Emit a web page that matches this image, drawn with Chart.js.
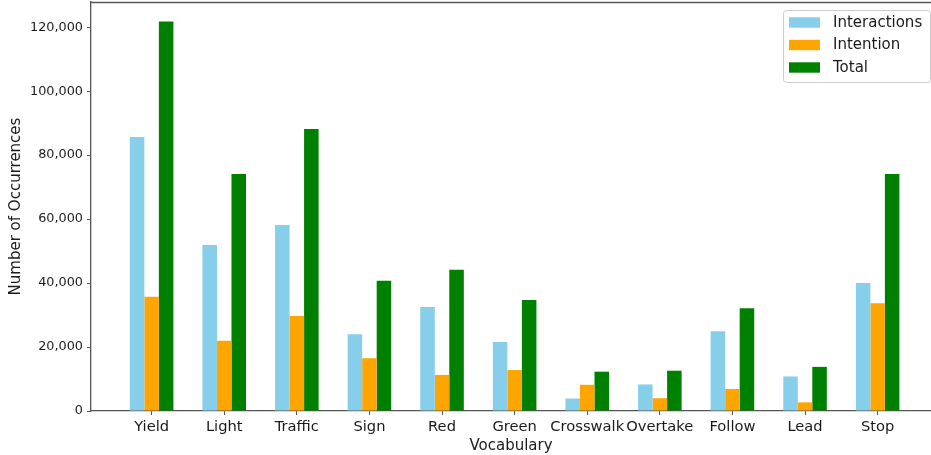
<!DOCTYPE html>
<html>
<head>
<meta charset="utf-8">
<script src="https://cdn.jsdelivr.net/npm/chart.js@4"></script>
<style>
html,body{margin:0;padding:0;background:#fff;}
canvas{display:block;}
</style>
</head>
<body>
<canvas id="c" width="931" height="455"></canvas>
<script>
const categories = ["Yield","Light","Traffic","Sign","Red","Green","Crosswalk","Overtake","Follow","Lead","Stop"];
const interactions = [85700, 51900, 58200, 24000, 32500, 21600, 3900, 8300, 24900, 10800, 40000];
const intention    = [35700, 22000, 29700, 16500, 11300, 12800, 8200, 4000, 6900, 2700, 33700];
const total        = [121800, 74100, 88200, 40700, 44200, 34700, 12300, 12600, 32100, 13800, 74100];
const yTicks = [0, 20000, 40000, 60000, 80000, 100000, 120000];
const seriesNames = ["Interactions", "Intention", "Total"];
const seriesColors = ["#87CEEB", "#FFA500", "#008000"];

const FONT = "'DejaVu Sans', sans-serif";
const TXT = "#1a1a1a";
const SPINE = "#555";

function pts(arr){ return arr.map((v,i)=>({x:i, y:v})); }

const seriesData = [interactions, intention, total];

const legendAndSpine = {
  id: 'legendAndSpine',
  afterDraw(chart){
    const ctx = chart.ctx;
    const ca = chart.chartArea;
    ctx.save();
    // top spine
    ctx.strokeStyle = SPINE;
    ctx.lineWidth = 1.3;
    ctx.beginPath();
    ctx.moveTo(ca.left, ca.top + 0.5);
    ctx.lineTo(ca.right, ca.top + 0.5);
    ctx.stroke();
    // legend box
    const bx = 783.5, by = 10.5, bw = 147, bh = 72, r = 3;
    ctx.fillStyle = 'rgba(255,255,255,0.8)';
    ctx.strokeStyle = '#cccccc';
    ctx.lineWidth = 1;
    ctx.beginPath();
    ctx.moveTo(bx + r, by);
    ctx.lineTo(bx + bw - r, by);
    ctx.arcTo(bx + bw, by, bx + bw, by + r, r);
    ctx.lineTo(bx + bw, by + bh - r);
    ctx.arcTo(bx + bw, by + bh, bx + bw - r, by + bh, r);
    ctx.lineTo(bx + r, by + bh);
    ctx.arcTo(bx, by + bh, bx, by + bh - r, r);
    ctx.lineTo(bx, by + r);
    ctx.arcTo(bx, by, bx + r, by, r);
    ctx.closePath();
    ctx.fill();
    ctx.stroke();
    ctx.font = "15px " + FONT;
    ctx.textBaseline = 'middle';
    ctx.textAlign = 'left';
    chart.data.datasets.forEach((ds, i) => {
      const cy = 22.5 + i * 22.5;
      ctx.fillStyle = ds.backgroundColor;
      ctx.fillRect(789, cy - 5.2, 31, 10.4);
      ctx.fillStyle = TXT;
      ctx.fillText(ds.label, 833, cy + 0.5);
    });
    ctx.restore();
  }
};

new Chart(document.getElementById('c'), {
  type: 'bar',
  data: {
    datasets: seriesNames.map((n, i) => ({
      label: n,
      data: pts(seriesData[i]),
      backgroundColor: seriesColors[i],
      borderWidth: 0,
      categoryPercentage: 0.6,
      barPercentage: 1.0
    }))
  },
  options: {
    responsive: false,
    animation: false,
    devicePixelRatio: 1,
    layout: { padding: { top: 2, right: 0, left: 0, bottom: 0 } },
    plugins: { legend: { display: false }, tooltip: { enabled: false } },
    scales: {
      x: {
        type: 'linear',
        min: -0.835,
        max: 10.735,
        offset: false,
        grid: { display: true, offset: false, drawOnChartArea: false, drawTicks: true, tickLength: 4, tickColor: SPINE, tickWidth: 1 },
        border: { display: true, color: SPINE, width: 1.3 },
        afterBuildTicks(scale){ scale.ticks = categories.map((c, i) => ({ value: i })); },
        afterFit(scale){ scale.height = 44; scale.paddingLeft = 0; scale.paddingRight = 0; },
        ticks: {
          autoSkip: false, maxRotation: 0, minRotation: 0, padding: 3,
          color: TXT, font: { family: FONT, size: 14.7 },
          callback: (v) => categories[v]
        },
        title: { display: true, text: 'Vocabulary', color: TXT, font: { family: FONT, size: 15 }, padding: { top: 0, bottom: 0 } }
      },
      y: {
        min: 0,
        max: 127900,
        grid: { display: true, drawOnChartArea: false, drawTicks: true, tickLength: 4, tickColor: SPINE, tickWidth: 1 },
        border: { display: true, color: SPINE, width: 1.3 },
        afterBuildTicks(scale){ scale.ticks = yTicks.map(v => ({ value: v })); },
        afterFit(scale){ scale.width = 91; scale.paddingTop = 0; scale.paddingBottom = 0; },
        ticks: {
          includeBounds: false, padding: 4,
          color: TXT, font: { family: FONT, size: 12.8 },
          callback: (v) => v.toLocaleString('en-US')
        },
        title: { display: true, text: 'Number of Occurrences', color: TXT, font: { family: FONT, size: 15 }, padding: { top: 7, bottom: 0 } }
      }
    }
  },
  plugins: [legendAndSpine]
});
</script>
</body>
</html>
